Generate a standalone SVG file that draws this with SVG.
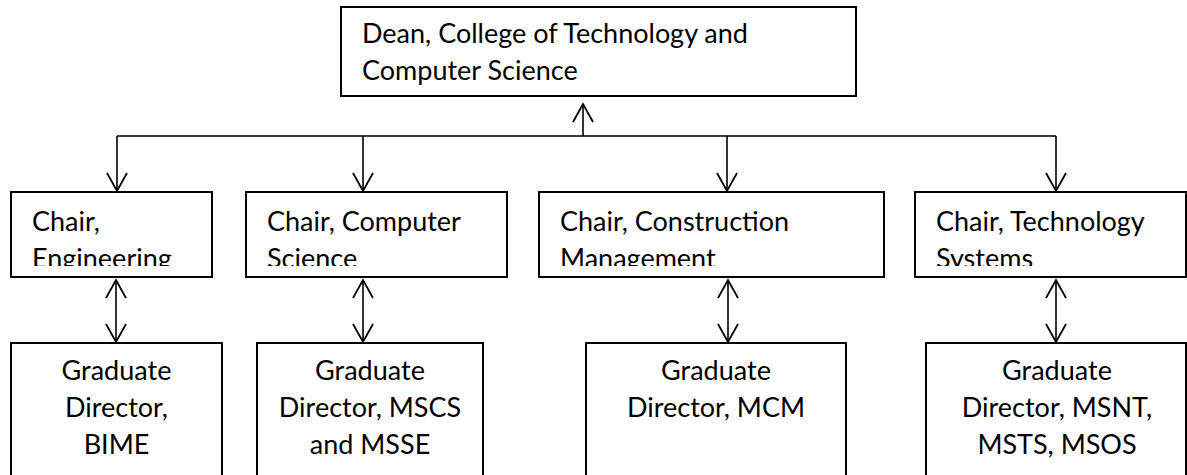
<svg xmlns="http://www.w3.org/2000/svg" width="1187" height="475" viewBox="0 0 1187 475">
<style>
.box{fill:#fff;stroke:#000;stroke-width:2}
.t{font-family:Lato,"Open Sans",sans-serif;font-size:27px;fill:#000}
.c{text-anchor:middle}
.ln{fill:none;stroke:#000;stroke-width:1.6}
</style>
<defs>
<marker id="ah" markerUnits="userSpaceOnUse" markerWidth="24" markerHeight="24" viewBox="-20 -12 22 24" refX="0" refY="0" orient="auto-start-reverse">
<path d="M-18,-10 L0,0 L-18,10" fill="none" stroke="#000" stroke-width="1.8"/>
</marker>
<clipPath id="c1"><rect x="11" y="192" width="201" height="74"/></clipPath>
<clipPath id="c2"><rect x="246" y="192" width="261" height="74"/></clipPath>
<clipPath id="c3"><rect x="539" y="192" width="345" height="74"/></clipPath>
<clipPath id="c4"><rect x="915" y="192" width="271" height="74"/></clipPath>
</defs>
<rect width="1187" height="475" fill="#fff"/>
<g id="connectors">
<path class="ln" d="M117,136 H1056"/>
<path class="ln" d="M583,136 V104" marker-end="url(#ah)"/>
<path class="ln" d="M117,136 V191" marker-end="url(#ah)"/>
<path class="ln" d="M363,136 V191" marker-end="url(#ah)"/>
<path class="ln" d="M727,136 V191" marker-end="url(#ah)"/>
<path class="ln" d="M1056,136 V191" marker-end="url(#ah)"/>
<path class="ln" d="M116,280 V342" marker-start="url(#ah)" marker-end="url(#ah)"/>
<path class="ln" d="M363,280 V342" marker-start="url(#ah)" marker-end="url(#ah)"/>
<path class="ln" d="M728,280 V342" marker-start="url(#ah)" marker-end="url(#ah)"/>
<path class="ln" d="M1056,280 V342" marker-start="url(#ah)" marker-end="url(#ah)"/>
</g>
<g id="dean">
<rect class="box" x="341" y="7" width="515" height="89"/>
<text class="t" x="362" y="43">Dean, College of Technology and</text>
<text class="t" x="362" y="80">Computer Science</text>
</g>
<g id="chair-eng">
<rect class="box" x="11" y="192" width="201" height="85"/>
<g clip-path="url(#c1)"><text class="t" x="32" y="231">Chair,</text><text class="t" x="32" y="268">Engineering</text></g>
</g>
<g id="chair-cs">
<rect class="box" x="246" y="192" width="261" height="85"/>
<g clip-path="url(#c2)"><text class="t" x="267" y="231">Chair, Computer</text><text class="t" x="267" y="268">Science</text></g>
</g>
<g id="chair-cm">
<rect class="box" x="539" y="192" width="345" height="85"/>
<g clip-path="url(#c3)"><text class="t" x="560" y="231">Chair, Construction</text><text class="t" x="560" y="268">Management</text></g>
</g>
<g id="chair-ts">
<rect class="box" x="915" y="192" width="271" height="85"/>
<g clip-path="url(#c4)"><text class="t" x="936" y="231">Chair, Technology</text><text class="t" x="936" y="268">Systems</text></g>
</g>
<g id="gd-bime">
<rect class="box" x="11" y="343" width="211" height="140"/>
<text class="t c" x="116.5" y="380">Graduate</text>
<text class="t c" x="116.5" y="417">Director,</text>
<text class="t c" x="116.5" y="454">BIME</text>
</g>
<g id="gd-mscs">
<rect class="box" x="257" y="343" width="226" height="140"/>
<text class="t c" x="370" y="380">Graduate</text>
<text class="t c" x="370" y="417">Director, MSCS</text>
<text class="t c" x="370" y="454">and MSSE</text>
</g>
<g id="gd-mcm">
<rect class="box" x="586" y="343" width="260" height="140"/>
<text class="t c" x="716" y="380">Graduate</text>
<text class="t c" x="716" y="417">Director, MCM</text>
</g>
<g id="gd-ms">
<rect class="box" x="926" y="343" width="260" height="140"/>
<text class="t c" x="1057" y="380">Graduate</text>
<text class="t c" x="1057" y="417">Director, MSNT,</text>
<text class="t c" x="1057" y="454">MSTS, MSOS</text>
</g>
</svg>
